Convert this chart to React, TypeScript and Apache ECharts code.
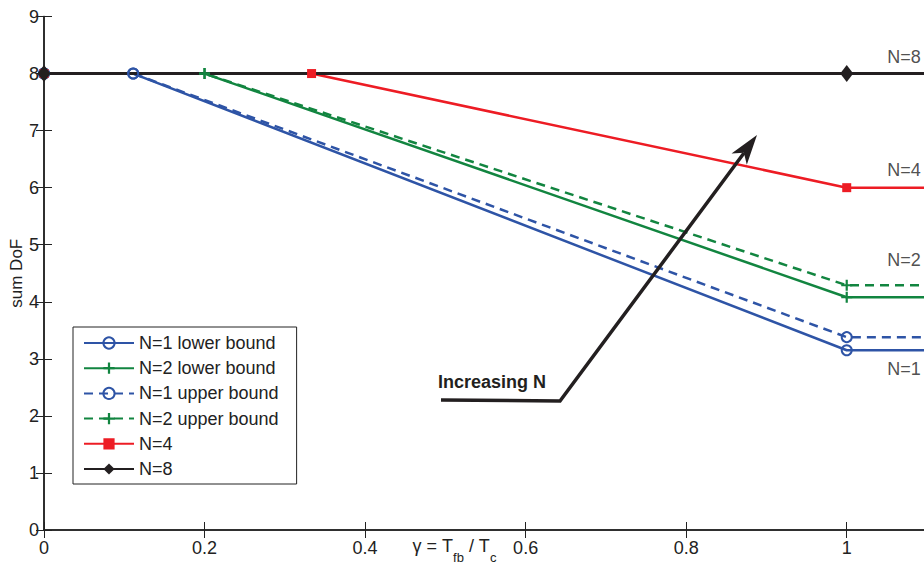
import React, { useEffect, useRef } from "react";
import * as echarts from "echarts";

// ---- data ----
const xN1 = [0, 1 / 9, 1, 1.2];
const yN1Lower = [8, 8, 3.15, 3.15];
const yN1Upper = [8, 8, 3.38, 3.38];
const xN2 = [0, 0.2, 1, 1.2];
const yN2Lower = [8, 8, 4.08, 4.08];
const yN2Upper = [8, 8, 4.29, 4.29];
const xN4 = [0, 1 / 3, 1, 1.2];
const yN4 = [8, 8, 6, 6];
const xN8 = [0, 1, 1.2];
const yN8 = [8, 8, 8];

const seriesNames = [
  "N=1 lower bound",
  "N=2 lower bound",
  "N=1 upper bound",
  "N=2 upper bound",
  "N=4",
  "N=8",
];

const curveLabels = ["N=8", "N=4", "N=2", "N=1"];
const curveLabelX = [1.05, 1.05, 1.05, 1.05];
const curveLabelY = [8.29, 6.31, 4.73, 2.82];

const xMin = 0;
const xMax = 1.1;
const xStep = 0.2;
const yMin = 0;
const yMax = 9;
const yStep = 1;

const FONT = "'Liberation Sans', Arial, Helvetica, sans-serif";
const BLUE = "#2e54a6";
const GREEN = "#128540";
const RED = "#ed1c24";
const BLACK = "#231f20";
const AX = "#222222";
const PLUS = "path://M4,0H6V4H10V6H6V10H4V6H0V4H4Z";

const zip = (xs: number[], ys: number[]) => xs.map((x, i) => [x, ys[i]]);

export default function App() {
  const ref = useRef<HTMLDivElement>(null);

  useEffect(() => {
    if (!ref.current) return;
    const chart = echarts.init(ref.current, null, { renderer: "svg" });

    const axisCommon = {
      axisLine: { show: true, lineStyle: { color: AX, width: 1.5 } },
      axisTick: { show: true, inside: true, length: 8, lineStyle: { color: AX, width: 1 } },
      splitLine: { show: false },
    };

    const option: any = {
      animation: false,
      textStyle: { fontFamily: FONT },
      grid: {
        left: 44,
        top: 16.5,
        width: 883,
        height: 513.5,
        containLabel: false,
        outerBoundsMode: "none",
      },
      legend: {
        orient: "vertical",
        left: 73,
        top: 327,
        data: seriesNames,
        itemWidth: 50,
        itemHeight: 14,
        itemGap: 5.2,
        padding: [6, 18, 5, 10],
        borderColor: AX,
        borderWidth: 1,
        backgroundColor: "#ffffff",
        selectedMode: false,
        textStyle: { fontSize: 18, color: AX, fontFamily: FONT, lineHeight: 20 },
      },
      xAxis: [
        {
          type: "value",
          position: "bottom",
          min: xMin,
          max: xMax,
          interval: xStep,
          ...axisCommon,
          axisLabel: { fontSize: 18, color: AX, margin: 9, showMaxLabel: false, fontFamily: FONT },
          name: "{m|γ = T}{s|fb}{m| / T}{s|c}",
          nameLocation: "middle",
          nameGap: 7,
          nameMoveOverlap: false,
          nameTextStyle: {
            padding: [0, 62, 0, 0],
            rich: {
              m: { fontSize: 18, lineHeight: 20, verticalAlign: "top", color: AX, fontFamily: FONT },
              s: {
                fontSize: 13,
                lineHeight: 13,
                verticalAlign: "top",
                padding: [14, 0, 0, 0],
                color: AX,
                fontFamily: FONT,
              },
            },
          },
        },
        {
          type: "value",
          position: "top",
          min: xMin,
          max: xMax,
          interval: xStep,
          ...axisCommon,
          axisLabel: { show: false },
        },
      ],
      yAxis: [
        {
          type: "value",
          position: "left",
          min: yMin,
          max: yMax,
          interval: yStep,
          ...axisCommon,
          axisLabel: { fontSize: 18, color: AX, margin: 5, fontFamily: FONT },
          name: "sum DoF",
          nameLocation: "middle",
          nameGap: 19,
          nameMoveOverlap: false,
          nameTextStyle: { fontSize: 17, color: AX, fontFamily: FONT },
        },
        {
          type: "value",
          position: "right",
          min: yMin,
          max: yMax,
          interval: yStep,
          ...axisCommon,
          axisLabel: { show: false },
        },
      ],
      series: [
        {
          name: seriesNames[0],
          type: "line",
          data: zip(xN1, yN1Lower),
          symbol: "circle",
          symbolSize: 10,
          clip: true,
          lineStyle: { color: BLUE, width: 2.5 },
          itemStyle: { color: "transparent", borderColor: BLUE, borderWidth: 2 },
          emphasis: { disabled: true },
        },
        {
          name: seriesNames[1],
          type: "line",
          data: zip(xN2, yN2Lower),
          symbol: PLUS,
          symbolSize: 11,
          clip: true,
          lineStyle: { color: GREEN, width: 2.5 },
          itemStyle: { color: GREEN },
          emphasis: { disabled: true },
        },
        {
          name: seriesNames[2],
          type: "line",
          data: zip(xN1, yN1Upper),
          symbol: "circle",
          symbolSize: 10,
          clip: true,
          lineStyle: { color: BLUE, width: 2.5, type: [9, 6] },
          itemStyle: { color: "transparent", borderColor: BLUE, borderWidth: 2 },
          emphasis: { disabled: true },
        },
        {
          name: seriesNames[3],
          type: "line",
          data: zip(xN2, yN2Upper),
          symbol: PLUS,
          symbolSize: 11,
          clip: true,
          lineStyle: { color: GREEN, width: 2.5, type: [9, 6] },
          itemStyle: { color: GREEN },
          emphasis: { disabled: true },
        },
        {
          name: seriesNames[4],
          type: "line",
          data: zip(xN4, yN4),
          symbol: "rect",
          symbolSize: 9,
          clip: true,
          lineStyle: { color: RED, width: 2.5 },
          itemStyle: { color: RED },
          emphasis: { disabled: true },
        },
        {
          name: seriesNames[5],
          type: "line",
          data: zip(xN8, yN8),
          symbol: "diamond",
          symbolSize: [13, 17],
          clip: true,
          lineStyle: { color: BLACK, width: 3 },
          itemStyle: { color: BLACK },
          emphasis: { disabled: true },
        },
        {
          name: "curve labels",
          type: "scatter",
          data: curveLabels.map((t, i) => ({ name: t, value: [curveLabelX[i], curveLabelY[i]] })),
          symbolSize: 1,
          itemStyle: { color: "transparent" },
          clip: false,
          silent: true,
          z: 5,
          label: {
            show: true,
            position: "right",
            distance: 0,
            formatter: "{b}",
            fontSize: 18,
            color: AX,
            fontFamily: FONT,
          },
        },
      ],
      graphic: [
        {
          type: "text",
          x: 438,
          y: 382,
          z: 100,
          style: {
            text: "Increasing N",
            fontSize: 18,
            fontWeight: "bold",
            fontFamily: FONT,
            fill: BLACK,
            align: "left",
            verticalAlign: "middle",
          },
        },
        {
          type: "polyline",
          z: 100,
          shape: { points: [[441, 400], [560, 401], [744, 153]] },
          style: { stroke: BLACK, lineWidth: 3.5, fill: null, lineJoin: "miter" },
        },
        {
          type: "polygon",
          z: 100,
          shape: { points: [[757, 135], [746.8, 164.8], [743.9, 152.7], [731.5, 153.5]] },
          style: { fill: BLACK },
        },
      ],
    };

    chart.setOption(option);
    return () => chart.dispose();
  }, []);

  return (
    <div
      ref={ref}
      style={{ position: "absolute", left: 0, top: 0, width: 924, height: 566, overflow: "hidden", background: "#fff" }}
    />
  );
}
